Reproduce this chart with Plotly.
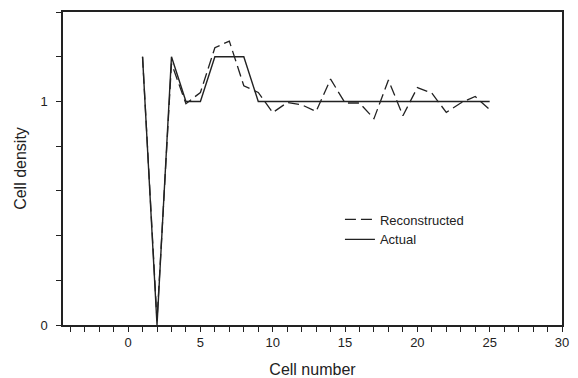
import plotly.graph_objects as go

cells = list(range(1, 26))
actual = [1.2, 0.0, 1.2, 1.0, 1.0, 1.2, 1.2, 1.2] + [1.0] * 17
reconstructed = [1.2, 0.02, 1.17, 0.99, 1.04, 1.24, 1.27, 1.07, 1.04, 0.95,
                 0.995, 0.985, 0.955, 1.10, 0.993, 0.993, 0.923, 1.096, 0.936,
                 1.062, 1.037, 0.951, 0.993, 1.022, 0.963]

x_tickvals = list(range(-4, 31))
x_ticktext = [str(v) if v % 5 == 0 and v >= 0 else "" for v in x_tickvals]
y_tickvals = [0, 0.2, 0.4, 0.6, 0.8, 1.0, 1.2, 1.4]
y_ticktext = ["0", "", "", "", "", "1", "", ""]

line_col = "#222222"
fig = go.Figure()
fig.add_trace(go.Scatter(x=cells, y=actual, mode="lines", name="Actual",
                         line=dict(color=line_col, width=1.4), legendrank=2))
fig.add_trace(go.Scatter(x=cells, y=reconstructed, mode="lines", name="Reconstructed",
                         line=dict(color=line_col, width=1.3, dash="11px,5px"), legendrank=1))

font = "Liberation Sans, Arial, sans-serif"
fig.update_layout(
    width=570, height=370,
    margin=dict(l=55, r=16, t=2, b=53),
    paper_bgcolor="white", plot_bgcolor="white",
    font=dict(family=font, color="#222", size=13),
    showlegend=True,
    legend=dict(x=0.555, y=0.385, xanchor="left", yanchor="top",
                bgcolor="rgba(0,0,0,0)", font=dict(size=13, family=font),
                tracegroupgap=0, itemwidth=30),
    xaxis=dict(range=[-4.5, 30], tickvals=x_tickvals, ticktext=x_ticktext,
               ticks="outside", ticklen=5, tickcolor="#222", tickwidth=1,
               showline=True, linecolor="#222", linewidth=1.5, mirror=True,
               showgrid=False, zeroline=False,
               title=dict(text="Cell number", font=dict(size=16), standoff=14),
               tickfont=dict(size=13)),
    yaxis=dict(range=[0, 1.4], tickvals=y_tickvals, ticktext=y_ticktext,
               ticks="outside", ticklen=5, tickcolor="#222", tickwidth=1,
               ticklabelstandoff=6,
               showline=True, linecolor="#222", linewidth=1.5, mirror=True,
               showgrid=False, zeroline=False,
               title=dict(text="Cell density", font=dict(size=16), standoff=10),
               tickfont=dict(size=13)),
)
fig.write_html("out.html")
